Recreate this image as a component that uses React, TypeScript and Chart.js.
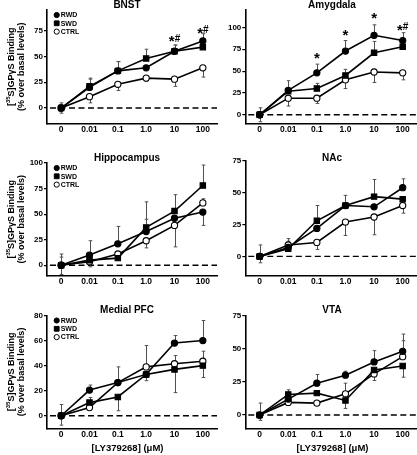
import React, { useEffect, useRef } from 'react';
import { Chart, registerables } from 'chart.js';

Chart.register(...registerables);

const FONT = '"Liberation Sans", Arial, Helvetica, sans-serif';
Chart.defaults.font.family = FONT;
Chart.defaults.color = '#000';

// ---------- data ----------
const doses = ['0', '0.01', '0.1', '1.0', '10', '100'];
const seriesNames = ['RWD', 'SWD', 'CTRL'];
const xTitle = '[LY379268] (\u03bcM)';
const yTitleLine1 = ['[', '35', 'S]GP\u03b3S Binding'];
const yTitleLine2 = '(% over basal levels)';

// BNST
const bnstRWD = [0, 20, 36, 39, 55, 65];
const bnstSWD = [0, 21, 36, 48, 55, 59];
const bnstCTRL = [0, 11, 23, 29, 28, 39];
const bnstRWDErr = [5, 8, 9, 0, 6, 7];
const bnstSWDErr = [0, 8, 9, 9, 6, 0];
const bnstCTRLErr = [-5, -6, -6, -3, -7, -9];
const bnstTicks = [0, 25, 50, 75];
const bnstRange = [-15, 95];
const bnstMarks = ['', '', '', '', '*#', '*#'];
const bnstMarkY = [0, 0, 0, 0, 68, 76];

// Amygdala
const amyRWD = [0, 28, 48, 73, 91, 85];
const amySWD = [0, 27, 30, 45, 71, 78];
const amyCTRL = [0, 19, 19, 40, 49, 48];
const amyRWDErr = [8, 11, 10, 12, 12, 9];
const amySWDErr = [0, 0, 6, 7, 13, 0];
const amyCTRLErr = [-8, -9, -6, -10, -12, -8];
const amyTicks = [0, 25, 50, 75, 100];
const amyRange = [-10, 120];
const amyMarks = ['', '', '*', '*', '*', '*#'];
const amyMarkY = [0, 0, 68, 95, 114, 101];

// Hippocampus
const hipRWD = [0, 10, 21, 33, 46, 52];
const hipSWD = [0, 5, 7, 37, 53, 78];
const hipCTRL = [0, 3.5, 11, 24, 39, 61];
const hipRWDErr = [11, 14, 17, 12, 0, -13];
const hipSWDErr = [8, 0, 0, 25, 16, 20];
const hipCTRLErr = [-9, -5, 0, -7, -21, 4];
const hipTicks = [0, 25, 50, 75, 100];
const hipRange = [-10, 100];
const hipMarks = ['', '', '', '', '', ''];
const hipMarkY = [0, 0, 0, 0, 0, 0];

// NAc
const nacRWD = [0, 7, 22, 40, 39, 54];
const nacSWD = [0, 6, 28, 40, 47, 45];
const nacCTRL = [0, 9, 11, 27, 31, 40];
const nacRWDErr = [9, 7, 0, 8, 0, 7];
const nacSWDErr = [0, 6, 12, 0, 13.5, 0];
const nacCTRLErr = [-5, 0, -5.5, -10.5, -14, -6];
const nacTicks = [0, 25, 50, 75];
const nacRange = [-15, 75];
const nacMarks = ['', '', '', '', '', ''];
const nacMarkY = [0, 0, 0, 0, 0, 0];

// Medial PFC
const pfcRWD = [0, 20.5, 26.5, 33, 58, 60];
const pfcSWD = [0, 10.5, 15, 33, 37, 40];
const pfcCTRL = [0, 6.5, 26.5, 39, 41.5, 43.5];
const pfcRWDErr = [9, 4, 0, 0, 6, 16];
const pfcSWDErr = [0, 4, -11, -5, -18.5, -9.5];
const pfcCTRLErr = [-7.5, 0, 12.5, 17, 6.5, 8];
const pfcTicks = [0, 20, 40, 60, 80];
const pfcRange = [-10, 80];
const pfcMarks = ['', '', '', '', '', ''];
const pfcMarkY = [0, 0, 0, 0, 0, 0];

// VTA
const vtaRWD = [0, 12, 24, 30, 40, 48];
const vtaSWD = [0, 15.5, 16.5, 11, 34, 37];
const vtaCTRL = [0, 9.5, 9, 16, 31, 44];
const vtaRWDErr = [9, 7, 6.5, 3, 8.5, 13];
const vtaSWDErr = [0, 0, 0, -6, 0, -8.5];
const vtaCTRLErr = [-4, 0, 0, 8, -5, 12];
const vtaTicks = [0, 25, 50, 75];
const vtaRange = [-10, 75];
const vtaMarks = ['', '', '', '', '', ''];
const vtaMarkY = [0, 0, 0, 0, 0, 0];

// ---------- layout ----------
type Row = { canvasTop: number; canvasBottom: number; titleY: number };
type Col = { canvasLeft: number; canvasWidth: number; axisX: number; plotRight: number; titleX: number };
const ROWS: Row[] = [
  { canvasTop: 0, canvasBottom: 140, titleY: 5.5 },
  { canvasTop: 140, canvasBottom: 292, titleY: 158.3 },
  { canvasTop: 292, canvasBottom: 455, titleY: 310 },
];
const COLS: Col[] = [
  { canvasLeft: 0, canvasWidth: 218, axisX: 47, plotRight: 217, titleX: 127 },
  { canvasLeft: 218, canvasWidth: 199, axisX: 245.3, plotRight: 417, titleX: 332 },
];
const X_TITLE_Y = 448;

type PanelDef = {
  title: string;
  values: number[][];
  errs: number[][];
  ticks: number[];
  range: number[];
  marks: string[];
  markY: number[];
  row: number;
  col: number;
  plotTop: number;
  plotBottom: number;
};

const panels: PanelDef[] = [
  { title: 'BNST', values: [bnstRWD, bnstSWD, bnstCTRL], errs: [bnstRWDErr, bnstSWDErr, bnstCTRLErr], ticks: bnstTicks, range: bnstRange, marks: bnstMarks, markY: bnstMarkY, row: 0, col: 0, plotTop: 10, plotBottom: 123.5 },
  { title: 'Amygdala', values: [amyRWD, amySWD, amyCTRL], errs: [amyRWDErr, amySWDErr, amyCTRLErr], ticks: amyTicks, range: amyRange, marks: amyMarks, markY: amyMarkY, row: 0, col: 1, plotTop: 10, plotBottom: 123.5 },
  { title: 'Hippocampus', values: [hipRWD, hipSWD, hipCTRL], errs: [hipRWDErr, hipSWDErr, hipCTRLErr], ticks: hipTicks, range: hipRange, marks: hipMarks, markY: hipMarkY, row: 1, col: 0, plotTop: 163, plotBottom: 275.5 },
  { title: 'NAc', values: [nacRWD, nacSWD, nacCTRL], errs: [nacRWDErr, nacSWDErr, nacCTRLErr], ticks: nacTicks, range: nacRange, marks: nacMarks, markY: nacMarkY, row: 1, col: 1, plotTop: 161, plotBottom: 275.5 },
  { title: 'Medial PFC', values: [pfcRWD, pfcSWD, pfcCTRL], errs: [pfcRWDErr, pfcSWDErr, pfcCTRLErr], ticks: pfcTicks, range: pfcRange, marks: pfcMarks, markY: pfcMarkY, row: 2, col: 0, plotTop: 315.5, plotBottom: 428.3 },
  { title: 'VTA', values: [vtaRWD, vtaSWD, vtaCTRL], errs: [vtaRWDErr, vtaSWDErr, vtaCTRLErr], ticks: vtaTicks, range: vtaRange, marks: vtaMarks, markY: vtaMarkY, row: 2, col: 1, plotTop: 315.5, plotBottom: 428.3 },
];

const STYLES = [
  { pointStyle: 'circle', radius: 3.1, fill: '#000' },
  { pointStyle: 'rect', radius: 3.8, fill: '#000' },
  { pointStyle: 'circle', radius: 3.1, fill: '#fff' },
];

function drawMarker(ctx: CanvasRenderingContext2D, kind: number, x: number, y: number, r: number) {
  ctx.save();
  ctx.lineWidth = 1;
  ctx.strokeStyle = '#000';
  ctx.fillStyle = STYLES[kind].fill;
  ctx.beginPath();
  if (STYLES[kind].pointStyle === 'rect') {
    ctx.rect(x - r, y - r, 2 * r, 2 * r);
  } else {
    ctx.arc(x, y, r, 0, Math.PI * 2);
  }
  ctx.fill();
  ctx.stroke();
  ctx.restore();
}

function makeDecor(p: PanelDef) {
  const row = ROWS[p.row];
  const col = COLS[p.col];
  return {
    id: 'decor',
    beforeDatasetsDraw(chart: any) {
      const { ctx, chartArea } = chart;
      const ys = chart.scales.y;
      ctx.save();
      const y0 = ys.getPixelForValue(0);
      ctx.strokeStyle = '#000';
      ctx.lineWidth = 1.4;
      ctx.setLineDash([6, 3.5]);
      ctx.beginPath();
      ctx.moveTo(chartArea.left + 3, y0);
      ctx.lineTo(chartArea.right, y0);
      ctx.stroke();
      ctx.setLineDash([]);
      ctx.strokeStyle = '#505050';
      ctx.lineWidth = 1;
      chart.data.datasets.forEach((ds: any, i: number) => {
        const meta = chart.getDatasetMeta(i);
        meta.data.forEach((pt: any, j: number) => {
          const e = ds.errs[j];
          if (!e) return;
          const x = Math.round(pt.x) + 0.5;
          const ye = ys.getPixelForValue(ds.data[j] + e);
          ctx.beginPath();
          ctx.moveTo(x, pt.y);
          ctx.lineTo(x, ye);
          ctx.moveTo(x - 1.8, ye);
          ctx.lineTo(x + 1.8, ye);
          ctx.stroke();
        });
      });
      ctx.restore();
    },
    afterDatasetsDraw(chart: any) {
      const { ctx } = chart;
      const xs = chart.scales.x;
      const ys = chart.scales.y;
      ctx.save();
      ctx.fillStyle = '#000';
      ctx.textBaseline = 'alphabetic';
      p.marks.forEach((m: string, j: number) => {
        if (!m) return;
        const cx = xs.getPixelForValue(j);
        const cy = ys.getPixelForValue(p.markY[j]);
        const starFont = `bold 15px ${FONT}`;
        const hashFont = `bold 10px ${FONT}`;
        ctx.font = starFont;
        const sw = ctx.measureText('*').width;
        let hw = 0;
        if (m.includes('#')) {
          ctx.font = hashFont;
          hw = ctx.measureText('#').width;
        }
        const total = sw + hw;
        const x = cx - total / 2;
        ctx.font = starFont;
        ctx.textAlign = 'left';
        ctx.fillText('*', x, cy + 8);
        if (hw) {
          ctx.font = hashFont;
          ctx.fillText('#', x + sw, cy + 3.8);
        }
      });
      ctx.restore();
    },
    afterDraw(chart: any) {
      const { ctx, chartArea } = chart;
      ctx.save();
      ctx.fillStyle = '#000';
      // panel title
      ctx.font = `bold 10px ${FONT}`;
      ctx.textAlign = 'center';
      ctx.textBaseline = 'middle';
      ctx.fillText(p.title, col.titleX - col.canvasLeft, row.titleY - row.canvasTop);
      // x-axis title on bottom row
      if (p.row === 2) {
        ctx.font = `bold 9.5px ${FONT}`;
        ctx.fillText(xTitle, col.titleX + 0.5 - col.canvasLeft, X_TITLE_Y - row.canvasTop);
      }
      if (p.col === 0) {
        // legend
        ctx.font = `bold 7px ${FONT}`;
        ctx.textAlign = 'left';
        ctx.textBaseline = 'middle';
        seriesNames.forEach((name, i) => {
          const my = chartArea.top + 5 + i * 8.3;
          const mx = chartArea.left + 9.7;
          drawMarker(ctx, i, mx, my, i === 1 ? 2.4 : 2.6);
          ctx.fillStyle = '#000';
          ctx.fillText(name, mx + 4, my + 0.3);
        });
        // y-axis title
        const cy = (chartArea.top + chartArea.bottom) / 2;
        const big = `bold 9px ${FONT}`;
        const small = `bold 6px ${FONT}`;
        ctx.font = big;
        const w0 = ctx.measureText(yTitleLine1[0]).width;
        const w2 = ctx.measureText(yTitleLine1[2]).width;
        ctx.font = small;
        const w1 = ctx.measureText(yTitleLine1[1]).width;
        const total = w0 + w1 + w2;
        ctx.save();
        ctx.translate(11.5, cy);
        ctx.rotate(-Math.PI / 2);
        ctx.textAlign = 'left';
        ctx.textBaseline = 'middle';
        let x = -total / 2;
        ctx.font = big;
        ctx.fillText(yTitleLine1[0], x, 0);
        x += w0;
        ctx.font = small;
        ctx.fillText(yTitleLine1[1], x, -2.7);
        x += w1;
        ctx.font = big;
        ctx.fillText(yTitleLine1[2], x, 0);
        ctx.restore();
        ctx.save();
        ctx.translate(21.5, cy);
        ctx.rotate(-Math.PI / 2);
        ctx.font = big;
        ctx.textAlign = 'center';
        ctx.textBaseline = 'middle';
        ctx.fillText(yTitleLine2, 0, 0);
        ctx.restore();
      }
      ctx.restore();
    },
  };
}

function buildConfig(p: PanelDef): any {
  const row = ROWS[p.row];
  const col = COLS[p.col];
  const padTop = p.plotTop - row.canvasTop;
  const padRight = col.canvasWidth - (col.plotRight - col.canvasLeft);
  const yW = col.axisX - col.canvasLeft;
  const xH = row.canvasBottom - p.plotBottom;
  return {
    type: 'line',
    data: {
      labels: doses,
      datasets: p.values.map((vals, i) => ({
        label: seriesNames[i],
        data: vals,
        errs: p.errs[i],
        borderColor: '#000',
        backgroundColor: STYLES[i].fill,
        borderWidth: 1.6,
        tension: 0,
        pointStyle: STYLES[i].pointStyle,
        pointRadius: STYLES[i].radius,
        pointBackgroundColor: STYLES[i].fill,
        pointBorderColor: '#000',
        pointBorderWidth: 1.1,
        clip: false,
      })),
    },
    options: {
      animation: false,
      responsive: false,
      events: [],
      layout: { padding: { top: padTop, right: padRight, left: 0, bottom: 0 }, autoPadding: false },
      plugins: { legend: { display: false }, tooltip: { enabled: false }, title: { display: false } },
      scales: {
        x: {
          type: 'category',
          offset: true,
          grid: { display: false, drawTicks: false },
          border: { display: true, color: '#000', width: 1.6 },
          ticks: { color: '#000', font: { size: 8.5, weight: 'bold' }, padding: 1.5, maxRotation: 0, minRotation: 0, autoSkip: false },
          afterFit: (s: any) => {
            s.height = xH;
            s.paddingLeft = 0;
            s.paddingRight = 0;
          },
        },
        y: {
          type: 'linear',
          min: p.range[0],
          max: p.range[1],
          grid: { display: true, drawOnChartArea: false, drawTicks: true, tickLength: 3, color: '#000', lineWidth: 1.2 },
          border: { display: true, color: '#000', width: 1.6 },
          ticks: { color: '#000', font: { size: 8, weight: 'bold' }, padding: 1 },
          afterBuildTicks: (s: any) => {
            s.ticks = p.ticks.map((v) => ({ value: v }));
          },
          afterFit: (s: any) => {
            s.width = yW;
            s.paddingTop = 0;
            s.paddingBottom = 0;
          },
        },
      },
    },
    plugins: [makeDecor(p)],
  };
}

function Panel({ p }: { p: PanelDef }) {
  const ref = useRef<HTMLCanvasElement>(null);
  const row = ROWS[p.row];
  const col = COLS[p.col];
  const w = col.canvasWidth;
  const h = row.canvasBottom - row.canvasTop;
  useEffect(() => {
    const chart = new Chart(ref.current as HTMLCanvasElement, buildConfig(p));
    return () => chart.destroy();
  }, [p]);
  return (
    <canvas
      ref={ref}
      width={w}
      height={h}
      style={{ position: 'absolute', left: col.canvasLeft, top: row.canvasTop, width: w, height: h, display: 'block' }}
    />
  );
}

export default function App() {
  return (
    <div style={{ position: 'absolute', left: 0, top: 0, width: 417, height: 455, background: '#fff', overflow: 'hidden' }}>
      {panels.map((p) => (
        <Panel key={p.title} p={p} />
      ))}
    </div>
  );
}
